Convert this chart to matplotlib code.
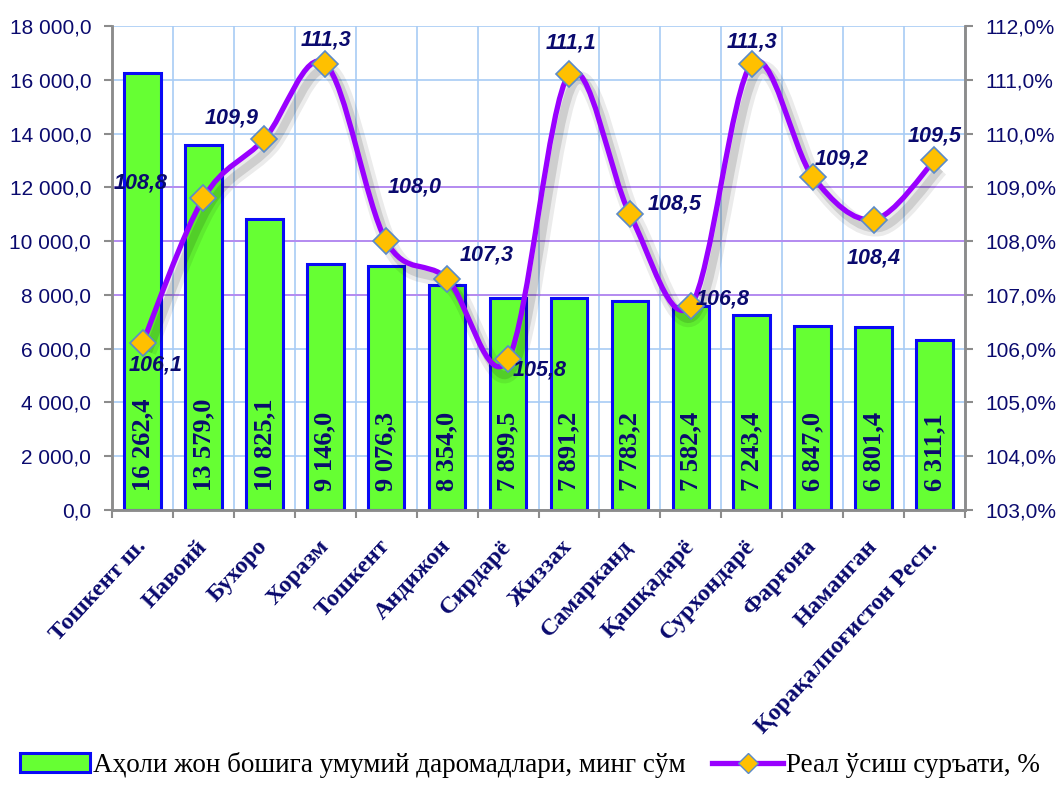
import matplotlib
matplotlib.use("Agg")
import matplotlib.pyplot as plt
import matplotlib.patheffects as pe
from matplotlib.path import Path
from matplotlib.patches import PathPatch, Patch
from matplotlib.lines import Line2D
import numpy as np

regions = ["Тошкент ш.", "Навоий", "Бухоро", "Хоразм", "Тошкент", "Андижон",
           "Сирдарё", "Жиззах", "Самарканд", "Қашқадарё", "Сурхондарё",
           "Фарғона", "Наманган", "Қорақалпоғистон Респ."]
income = [16262.4, 13579.0, 10825.1, 9146.0, 9076.3, 8354.0, 7899.5,
          7891.2, 7783.2, 7582.4, 7243.4, 6847.0, 6801.4, 6311.1]
growth = [106.1, 108.8, 109.9, 111.3, 108.0, 107.3, 105.8,
          111.1, 108.5, 106.8, 111.3, 109.2, 108.4, 109.5]

bar_name = "Аҳоли жон бошига умумий даромадлари, минг сўм"
line_name = "Реал ўсиш суръати, %"

# label offsets for growth values, pixels (dx, dy)
label_offsets = [(13, -22), (-63, 15), (-33, 21), (1, 24), (28, 54), (40, 24),
                 (32, -11), (2, 31), (45, 10), (32, 7), (0, 22), (29, 18),
                 (0, -38), (0, 24)]

NAVY = "#0A0A6E"
GRID = "#A8CCF5"
PURPLE_GRID = "#B58CF0"
SERIF = "Liberation Serif"
SANS = "Liberation Sans"


def fmt_num(v):
    return f"{v:,.1f}".replace(",", " ").replace(".", ",")


def smooth_path(xs, ys):
    """Catmull-Rom style bezier through the points (like Excel smoothed line)."""
    pts = np.column_stack([xs, ys]).astype(float)
    n = len(pts)
    verts = [pts[0]]
    codes = [Path.MOVETO]
    for i in range(n - 1):
        p0 = pts[i - 1] if i > 0 else pts[i]
        p1 = pts[i]
        p2 = pts[i + 1]
        p3 = pts[i + 2] if i + 2 < n else pts[i + 1]
        c1 = p1 + (p2 - p0) / 6.0
        c2 = p2 - (p3 - p1) / 6.0
        verts += [c1, c2, p2]
        codes += [Path.CURVE4] * 3
    return Path(verts, codes)


fig = plt.figure(figsize=(10.59, 7.93), dpi=100)
ax = fig.add_axes([0.1058, 0.3569, 0.8054, 0.6103])
ax2 = ax.twinx()

x = np.arange(len(regions))

ax.set_xlim(-0.5, len(regions) - 0.5)
ax.set_ylim(0, 18000)
ax2.set_ylim(103, 112)

# grid
ax.set_axisbelow(True)
ax.set_xticks(np.arange(-0.5, len(regions), 1), minor=True)
ax.grid(axis="x", which="minor", color=GRID, lw=1.2)
ax.set_yticks(np.arange(0, 18001, 2000))
ax.grid(axis="y", which="major", color=GRID, lw=1.2)
for v in (8000, 10000, 12000):
    ax.axhline(v, color=PURPLE_GRID, lw=1.4, zorder=0.6)

ax.bar(x, income, width=0.6, color="#66FF33", edgecolor="#0A0AF5", linewidth=2.2, zorder=2)

for xi, v in zip(x, income):
    ax.text(xi, 700, fmt_num(v), rotation=90, ha="center", va="bottom",
            fontsize=19, fontweight="bold", family=SERIF, color=NAVY, zorder=3)

# axes styling
ax.set_xticks(x)
ax.set_xticklabels(regions, rotation=47, ha="right", va="center",
                   rotation_mode="anchor", fontsize=17.5, fontweight="bold",
                   family=SERIF, color=NAVY)
ax.tick_params(axis="x", which="major", length=0, pad=24)
ax.tick_params(axis="x", which="minor", length=6, width=1.5, color="#8C8C8C")
ax.set_yticklabels([fmt_num(v) for v in ax.get_yticks()])
ax.tick_params(axis="y", length=6, width=1.5, color="#8C8C8C", labelsize=15,
               labelcolor=NAVY, pad=9)
for t in ax.get_yticklabels():
    t.set_family(SANS)

ax2.set_yticks(np.arange(103, 112.01, 1))
ax2.set_yticklabels([f"{v:.1f}%".replace(".", ",") for v in ax2.get_yticks()])
ax2.tick_params(axis="y", length=6, width=1.5, color="#8C8C8C", labelsize=15,
                labelcolor=NAVY, pad=9)
for t in ax2.get_yticklabels():
    t.set_family(SANS)

for a in (ax, ax2):
    a.spines["top"].set_visible(False)
    for s in ("left", "right", "bottom"):
        a.spines[s].set_color("#8C8C8C")
        a.spines[s].set_linewidth(1.8)

# smoothed growth line with soft shadow
curve = PathPatch(smooth_path(x, growth), transform=ax2.transData, fill=False,
                  edgecolor="#9900FF", lw=3.8, zorder=4,
                  path_effects=[pe.SimpleLineShadow(offset=(4, -6), shadow_color="k",
                                                    alpha=0.08, linewidth=12),
                                pe.SimpleLineShadow(offset=(4, -6), shadow_color="k",
                                                    alpha=0.12, linewidth=6),
                                pe.Normal()])
ax2.add_patch(curve)
ax2.plot(x, growth, ls="none", marker="D", ms=13, mfc="#FFC000",
         mec="#5B8BC9", mew=1.2, zorder=5)

for xi, v, (dx, dy) in zip(x, growth, label_offsets):
    ax2.annotate(f"{v:.1f}".replace(".", ","), (xi, v), xytext=(dx, dy),
                 textcoords="offset pixels", ha="center", va="center",
                 fontsize=15.5, fontweight="bold", fontstyle="italic",
                 family=SANS, color=NAVY, zorder=6)

handles = [Patch(facecolor="#66FF33", edgecolor="#0A0AF5", linewidth=2.2),
           Line2D([0], [0], color="#9900FF", lw=3.8, marker="D", ms=10,
                  mfc="#FFC000", mec="#5B8BC9")]
fig.legend(handles, [bar_name, line_name], loc="lower center",
           bbox_to_anchor=(0.5, -0.012), ncol=2, frameon=False,
           prop={"family": SERIF, "size": 19.5}, handlelength=2.6,
           handletextpad=0.1, columnspacing=1.0, labelcolor="black")

fig.savefig("out.png", dpi=100)
